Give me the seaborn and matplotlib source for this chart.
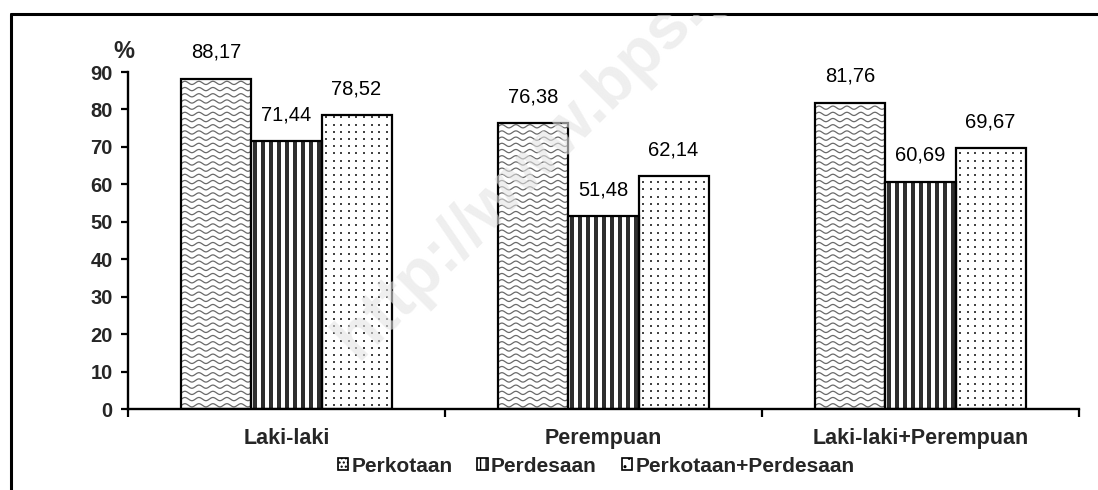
import numpy as np
import pandas as pd
import matplotlib
matplotlib.use("Agg")
import matplotlib.pyplot as plt
import seaborn as sns
from matplotlib.patches import Rectangle
from matplotlib.lines import Line2D
from matplotlib.transforms import Bbox, TransformedBbox

# Data
groups = ["Laki-laki", "Perempuan", "Laki-laki+Perempuan"]
areas = ["Perkotaan", "Perdesaan", "Perkotaan+Perdesaan"]
perkotaan = [88.17, 76.38, 81.76]
perdesaan = [71.44, 51.48, 60.69]
gabungan = [78.52, 62.14, 69.67]
y_ticks = [0, 10, 20, 30, 40, 50, 60, 70, 80, 90]

df = pd.DataFrame({
    "kelompok": groups * 3,
    "wilayah": [a for a in areas for _ in groups],
    "nilai": perkotaan + perdesaan + gabungan,
})

sns.set_theme(style="white")
plt.rcParams["font.family"] = ["Liberation Sans", "DejaVu Sans"]

DPI = 100
fig = plt.figure(figsize=(10.98, 4.90), dpi=DPI)
ax = fig.add_axes([128 / 1098, 1 - 409 / 490, (1079 - 128) / 1098, (409 - 72) / 490])

sns.barplot(data=df, x="kelompok", y="nilai", hue="wilayah",
            order=groups, hue_order=areas, palette=["white"] * 3,
            saturation=1, width=0.663, edgecolor="black", linewidth=1.6,
            legend=False, ax=ax, zorder=3)

ax.set_xlim(-0.5, 2.5)
ax.set_ylim(0, 90)

# pixel <-> data scale factors
px_x = ax.bbox.width / 3.0
px_y = ax.bbox.height / 90.0


def wavy(patch, color="#6a6a6a"):
    x0, y0 = patch.get_x(), patch.get_y()
    w, h = patch.get_width(), patch.get_height()
    row = 6.2 / px_y
    period = 14.0 / px_x
    amp = 1.6 / px_y
    xs = np.linspace(x0, x0 + w, 200)
    for yy in np.arange(y0 + row * 0.6, y0 + h, row):
        ln = Line2D(xs, yy + amp * np.sin(2 * np.pi * (xs - x0) / period),
                    color=color, lw=0.9, zorder=2)
        ax.add_line(ln)
        ln.set_clip_path(patch)


def stripes(patch, color="#2e2e2e"):
    x0, w, h = patch.get_x(), patch.get_width(), patch.get_height()
    step = 8.0 / px_x
    xs = np.arange(x0 + step * 0.5, x0 + w, step)
    lc = ax.vlines(xs, 0, h, colors=color, linewidth=4.0 * 72 / DPI, zorder=2)
    lc.set_clip_path(patch)


def dots(patch, color="#444444"):
    x0, w, h = patch.get_x(), patch.get_width(), patch.get_height()
    sx, sy = 7.6 / px_x, 7.2 / px_y
    gx = np.arange(x0 + sx * 0.6, x0 + w, sx)
    gy = np.arange(sy * 0.5, h, sy)
    X, Y = np.meshgrid(gx, gy)
    sc = ax.scatter(X.ravel(), Y.ravel(), s=3.6, marker="s", color=color,
                    linewidths=0, zorder=2)
    sc.set_clip_path(patch)


fills = [wavy, stripes, dots]
for cont, fill in zip(ax.containers, fills):
    for p in cont.patches:
        p.set_facecolor("none")
        fill(p)
        v = p.get_height()
        ax.annotate(f"{v:.2f}".replace(".", ","),
                    (p.get_x() + p.get_width() / 2, v),
                    xytext=(0, 19.0), textcoords="offset points",
                    ha="center", va="center", fontsize=14.5, color="black",
                    annotation_clip=False)

# Axes styling
for s in ["top", "right"]:
    ax.spines[s].set_visible(False)
for s in ["left", "bottom"]:
    ax.spines[s].set_linewidth(1.7)
    ax.spines[s].set_color("black")

ax.set_yticks(y_ticks)
ax.set_yticklabels([str(t) for t in y_ticks], fontsize=14.5, fontweight="bold")
ax.tick_params(axis="y", direction="out", length=5, width=1.6, pad=6, left=True, color="black")
ax.set_xticks(range(3))
ax.set_xticklabels(groups, fontsize=15.5, fontweight="bold")
ax.set_xticks([-0.5, 0.5, 1.5, 2.5], minor=True)
ax.tick_params(axis="x", which="major", length=0, pad=14)
ax.tick_params(axis="x", which="minor", direction="out", length=6, width=1.6, bottom=True, color="black")
ax.set_xlabel("")
ax.set_ylabel("")
ax.grid(False)

fig.text(124 / 1098, 1 - 51 / 490, "%", ha="center", va="center",
         fontsize=17, fontweight="bold")

# Legend
handles = [
    Rectangle((0, 0), 1, 1, facecolor="white", edgecolor="black", hatch="....", lw=1.2),
    Rectangle((0, 0), 1, 1, facecolor="white", edgecolor="black", hatch="|||", lw=1.2),
    Rectangle((0, 0), 1, 1, facecolor="white", edgecolor="black", hatch="..", lw=1.2),
]
fig.legend(handles, areas, loc="center", bbox_to_anchor=(596 / 1098, 1 - 466 / 490),
           ncol=3, frameon=False, handlelength=0.5, handleheight=0.5,
           handletextpad=0.15, columnspacing=1.2, borderpad=0,
           prop={"weight": "bold", "size": 15})

# Watermark, kept inside the framed area
wm = fig.text(576 / 1098, 1 - 118 / 490, "http://www.bps.go.id", rotation=45,
              ha="center", va="center", fontsize=48, fontweight="bold",
              color="#e4e4e4", alpha=0.6, zorder=10)
wm.set_clip_box(TransformedBbox(Bbox([[12 / 1098, 0.0], [1.0, 1 - 15 / 490]]),
                                fig.transFigure))
wm.set_clip_on(True)

# Frame lines
fig.add_artist(Line2D([11 / 1098, 1.0], [1 - 14 / 490, 1 - 14 / 490],
                      transform=fig.transFigure, color="black", lw=2.2))
fig.add_artist(Line2D([11 / 1098, 11 / 1098], [1 - 14 / 490, 0.0],
                      transform=fig.transFigure, color="black", lw=2.2))

fig.savefig("out.png", dpi=DPI, facecolor="white")
